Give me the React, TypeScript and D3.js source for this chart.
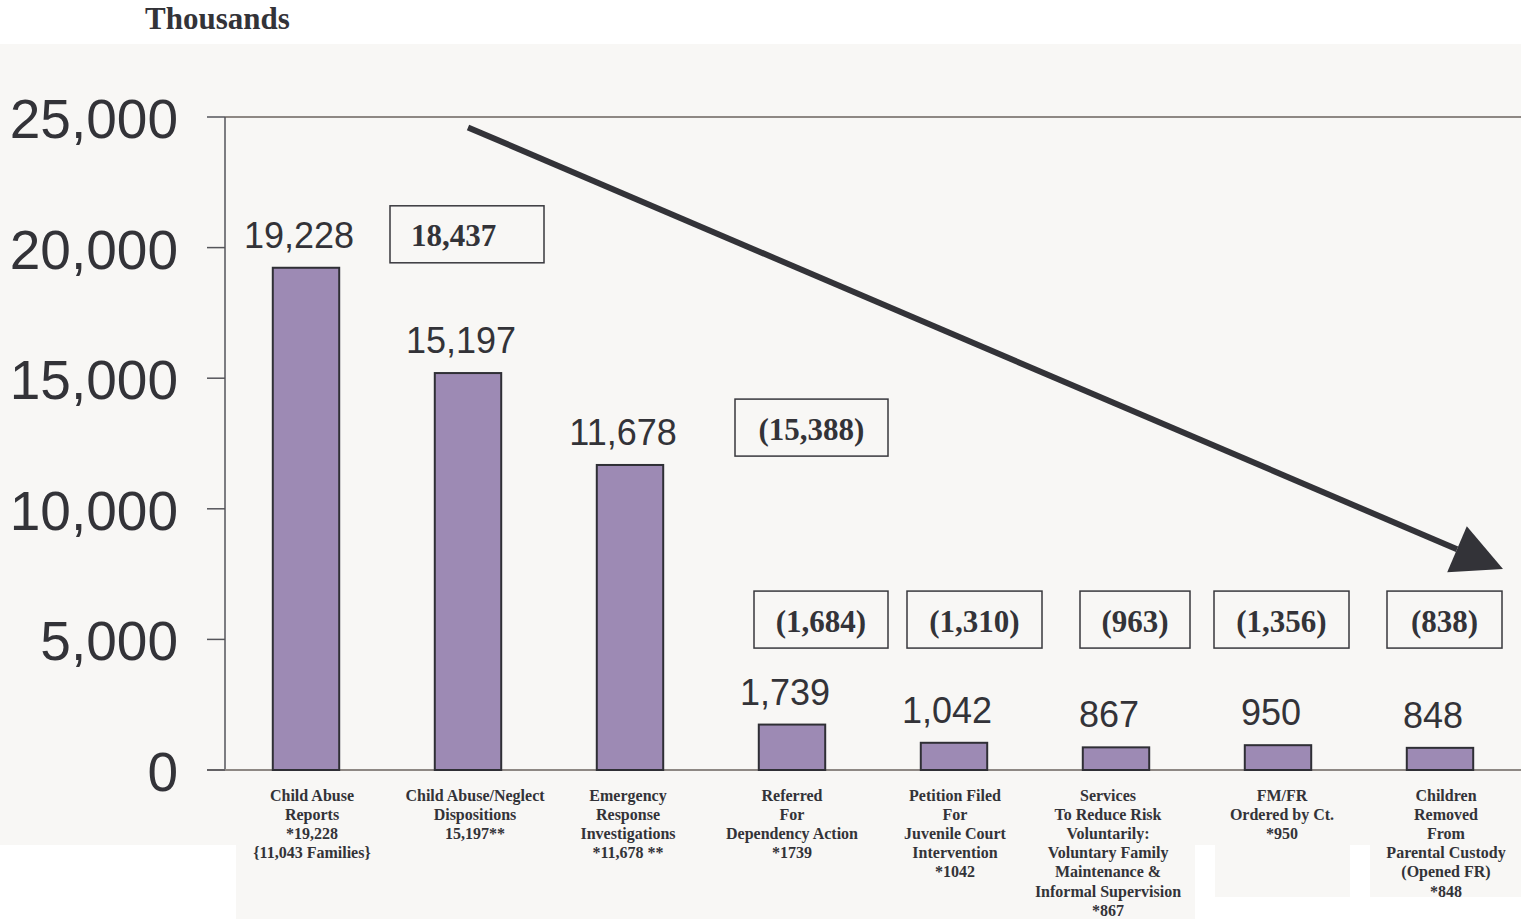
import * as d3 from "d3";
import { useEffect } from "react";

// chart data
const categories: string[][] = [
  ["Child Abuse", "Reports", "*19,228", "{11,043 Families}"],
  ["Child Abuse/Neglect", "Dispositions", "15,197**"],
  ["Emergency", "Response", "Investigations", "*11,678 **"],
  ["Referred", "For", "Dependency Action", "*1739"],
  ["Petition Filed", "For", "Juvenile Court", "Intervention", "*1042"],
  ["Services", "To Reduce Risk", "Voluntarily:", "Voluntary Family", "Maintenance &", "Informal Supervision", "*867"],
  ["FM/FR", "Ordered by Ct.", "*950"],
  ["Children", "Removed", "From", "Parental Custody", "(Opened FR)", "*848"],
];
const values = [19228, 15197, 11678, 1739, 1042, 867, 950, 848];
const yTicks = [0, 5000, 10000, 15000, 20000, 25000];

// boxed drop-off numbers and the category each one sits over
const boxLabels = ["18,437", "(15,388)", "(1,684)", "(1,310)", "(963)", "(1,356)", "(838)"];
const boxCategory = [1, 3, 3, 4, 5, 6, 7];

const W = 1521;
const H = 919;
const textColor = "#333338";
const barColor = "#9d8ab4";

// small horizontal nudges of the category captions, as in the original slide
const labelShift = [6, 7, -2, 0, 1, -8, 4, 6];

// box layout: left offset from band centre, top (in y units), width, left-aligned text?
const boxLayout = [
  { dx: -78, top: 21600, w: 154, left: true },
  { dx: -57, top: 14200, w: 153, left: false },
  { dx: -38, top: 6850, w: 134, left: false },
  { dx: -47, top: 6850, w: 135, left: false },
  { dx: -36, top: 6850, w: 110, left: false },
  { dx: -64, top: 6850, w: 135, left: false },
  { dx: -53, top: 6850, w: 115, left: false },
];

export default function App() {
  useEffect(() => {
    document.body.style.margin = "0";
    document.body.style.overflow = "hidden";
  }, []);

  const margin = { left: 225, right: 0, top: 117, bottom: 149 };
  const x = d3
    .scaleBand<number>()
    .domain(d3.range(categories.length))
    .range([margin.left, W - margin.right])
    .paddingInner(0.59)
    .paddingOuter(0.295);
  const band = d3
    .scaleBand<number>()
    .domain(d3.range(categories.length))
    .range([margin.left, W - margin.right]);
  const y = d3.scaleLinear().domain([0, 25000]).range([H - margin.bottom, margin.top]);
  const center = (i: number) => (band(i) ?? 0) + band.bandwidth() / 2;

  const fmt = d3.format(",");

  // trend arrow
  const start: [number, number] = [center(1), y(24600)];
  const tip: [number, number] = [1503, y(7700)];
  const ddx = tip[0] - start[0];
  const ddy = tip[1] - start[1];
  const len = Math.hypot(ddx, ddy);
  const ux = ddx / len;
  const uy = ddy / len;
  const headLen = 50;
  const headHalf = 25;
  const base: [number, number] = [tip[0] - ux * headLen, tip[1] - uy * headLen];
  const head = [
    tip,
    [base[0] - uy * headHalf, base[1] + ux * headHalf],
    [base[0] + uy * headHalf, base[1] - ux * headHalf],
  ];

  return (
    <svg width={W} height={H} style={{ position: "absolute", left: 0, top: 0, background: "#ffffff" }}>
      {/* background panels */}
      <rect x={0} y={44} width={W} height={801} fill="#f8f7f5" />
      <rect x={236} y={845} width={959} height={74} fill="#f8f7f5" />
      <rect x={1215} y={845} width={135} height={52} fill="#f8f7f5" />
      <rect x={1370} y={845} width={151} height={52} fill="#f8f7f5" />

      <text x={145} y={29} fontFamily="Liberation Serif, serif" fontWeight="bold" fontSize={31} fill={textColor}>
        Thousands
      </text>

      {/* frame */}
      <line x1={margin.left} x2={W} y1={y(25000)} y2={y(25000)} stroke="#8e8884" strokeWidth={2} />
      <line x1={margin.left} x2={margin.left} y1={y(25000)} y2={y(0)} stroke="#55555a" strokeWidth={1.5} />
      <line x1={207} x2={W} y1={y(0)} y2={y(0)} stroke="#8e8884" strokeWidth={2} />

      {yTicks.map((t) => (
        <g key={t}>
          <line x1={207} x2={margin.left} y1={y(t)} y2={y(t)} stroke="#55555a" strokeWidth={1.5} />
          <text
            x={178}
            y={y(t) + 21}
            textAnchor="end"
            fontFamily="Liberation Sans, Arial, sans-serif"
            fontSize={55}
            fill={textColor}
          >
            {fmt(t)}
          </text>
        </g>
      ))}

      {values.map((v, i) => (
        <g key={i}>
          <rect
            x={x(i)}
            y={y(v)}
            width={x.bandwidth()}
            height={y(0) - y(v)}
            fill={barColor}
            stroke="#2f2f35"
            strokeWidth={2}
          />
          <text
            x={center(i) - 7}
            y={y(v) - 20}
            textAnchor="middle"
            fontFamily="Liberation Sans, Arial, sans-serif"
            fontSize={36}
            fill={textColor}
          >
            {fmt(v)}
          </text>
          <text
            textAnchor="middle"
            fontFamily="Liberation Serif, serif"
            fontWeight="bold"
            fontSize={16}
            fill={textColor}
          >
            {categories[i].map((line, k) => (
              <tspan key={k} x={center(i) + labelShift[i]} y={801 + k * 19.1}>
                {line}
              </tspan>
            ))}
          </text>
        </g>
      ))}

      {boxLabels.map((lab, i) => {
        const L = boxLayout[i];
        const bx = center(boxCategory[i]) + L.dx;
        const by = y(L.top);
        const bh = 57;
        return (
          <g key={lab}>
            <rect x={bx} y={by} width={L.w} height={bh} fill="none" stroke="#38383d" strokeWidth={1.5} />
            <text
              x={L.left ? bx + 21 : bx + L.w / 2}
              y={by + bh / 2 + 12}
              textAnchor={L.left ? "start" : "middle"}
              fontFamily="Liberation Serif, serif"
              fontWeight="bold"
              fontSize={31}
              fill={textColor}
            >
              {lab}
            </text>
          </g>
        );
      })}

      <line x1={start[0]} y1={start[1]} x2={base[0]} y2={base[1]} stroke="#333338" strokeWidth={6} />
      <polygon points={head.map((p) => p.join(",")).join(" ")} fill="#333338" />
    </svg>
  );
}
